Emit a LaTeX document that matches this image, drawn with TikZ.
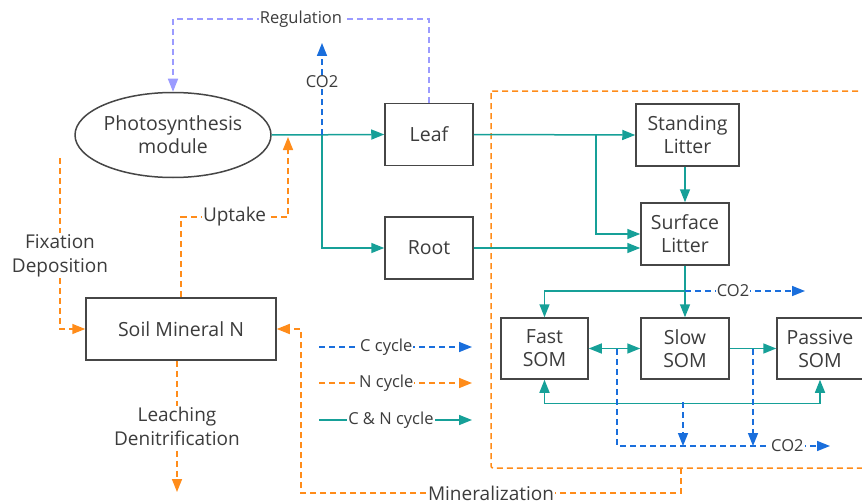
\documentclass[tikz,border=0pt]{standalone}
\usepackage{fontspec}
\setmainfont{Open Sans}
\usetikzlibrary{arrows.meta,shapes.geometric}
\definecolor{tealc}{RGB}{22,160,152}
\definecolor{orangec}{RGB}{255,140,26}
\definecolor{bluec}{RGB}{25,110,220}
\definecolor{purplec}{RGB}{155,155,255}
\definecolor{txt}{RGB}{60,60,60}
\definecolor{boxc}{RGB}{70,70,70}
\tikzset{
  tri/.tip={Triangle[length=13pt,width=10pt]},
  tip/.style={-tri},
  dtip/.style={tri-tri},
  box/.style={draw=boxc, line width=1.5pt, minimum width=#1, minimum height=62pt, inner sep=0pt, align=center, text=txt, font=\fontsize{19.5}{23}\selectfont},
  cn/.style={draw=tealc, line width=1.5pt},
  cdash/.style={draw=bluec, line width=1.5pt, dash pattern=on 6pt off 4pt},
  ndash/.style={draw=orangec, line width=1.5pt, dash pattern=on 6pt off 4pt},
  rdash/.style={draw=purplec, line width=1.5pt, dash pattern=on 6pt off 4pt},
  lab/.style={fill=white, inner sep=1pt, text=txt, align=center, font=\fontsize{19}{24}\selectfont},
  slab/.style={fill=white, inner sep=1pt, text=txt, font=\fontsize{16.5}{20}\selectfont},
}
\begin{document}
\begin{tikzpicture}[x=1pt,y=-1pt]
\useasboundingbox (0,0) rectangle (862,503);
\fill[white] (0,0) rectangle (862,503);
% big dashed region
\draw[ndash, rounded corners=2pt] (491,91) rectangle (885,468);
% nodes
\node[ellipse, draw=boxc, line width=1.5pt, minimum width=172pt, minimum height=85pt, inner sep=0pt, align=center, text=txt, font=\fontsize{19.5}{23}\selectfont] (ps) at (173,135) {Photosynthesis\\module};
\node[box=88pt] (leaf) at (429,134.5) {Leaf};
\node[box=88pt] (root) at (429,248) {Root};
\node[box=190pt] (soil) at (181,329) {Soil Mineral N};
\node[box=103pt] (stand) at (687.5,135) {Standing\\Litter};
\node[box=88pt] (surf) at (685,234) {Surface\\Litter};
\node[box=87pt, minimum height=61pt] (fast) at (544.5,348.5) {Fast\\SOM};
\node[box=88pt, minimum height=61pt] (slow) at (685,348.5) {Slow\\SOM};
\node[box=86pt, minimum height=61pt] (pass) at (820,348.5) {Passive\\SOM};
% coordinates
\coordinate (j1) at (322,135);
\coordinate (co2top) at (322,43);
\coordinate (upt) at (288,137);
\coordinate (j2) at (596,135);
\coordinate (j3) at (685,291);
\coordinate (co2a) at (805,291);
\coordinate (j4) at (617,349);
\coordinate (j5) at (753,349);
\coordinate (j6) at (683,402);
\coordinate (co2b) at (830,446);
\coordinate (fixtop) at (60,158);
\coordinate (leachend) at (177,492);
\coordinate (minst) at (681,468);
% teal flows
\draw[cn,tip] (ps.east) -- (leaf.west);
\draw[cn,tip] (j1) |- (root.west);
\draw[cn,tip] (leaf.east) -- (stand.west);
\draw[cn,tip] (j2) |- (surf.west);
\draw[cn,tip] (root.east) -- (root.east -| surf.west);
\draw[cn,tip] (surf.north |- stand.south) -- (surf.north);
\draw[cn,tip] (surf.south) -- (slow.north);
\draw[cn,tip] (j3) -| (fast.north);
\draw[cn,dtip] (fast.east) -- (slow.west);
\draw[cn,tip] (slow.east) -- (pass.west);
\draw[cn,dtip] (fast.south) -- ++(0,23.5) -| (pass.south);
% blue CO2
\draw[cdash,tip] (j1) -- node[slab, pos=0.58]{CO2} (co2top);
\draw[cdash,tip] (j3) -- node[slab, pos=0.4]{CO2} (co2a);
\draw[cdash,tip] (j4) |- node[slab, pos=0.9]{CO2} (co2b);
\draw[cdash,tip] (j6) -- (j6 |- co2b);
\draw[cdash,tip] (j5) -- (j5 |- co2b);
% regulation
\draw[rdash,tip] (leaf.north) -- (429,19) -- node[slab]{Regulation} (173,19) -- (ps.north);
% N flows
\draw[ndash,tip] (soil.north) -- (181,217) -- node[lab]{Uptake} (288,217) -- (upt);
\draw[ndash,tip] (fixtop) -- node[lab, pos=0.57]{Fixation\\Deposition} (60,329) -- (soil.west);
\draw[ndash,tip] ([xshift=-4pt]soil.south) -- node[lab, pos=0.5]{Leaching\\Denitrification} (leachend);
\draw[ndash,tip] (minst) -- (681,493) -- node[lab, pos=0.5]{Mineralization} (301,493) -- (301,329) -- (soil.east);
% legend
\coordinate (l1a) at (319,347); \coordinate (l1b) at (472,347);
\coordinate (l2a) at (319,383); \coordinate (l2b) at (472,383);
\coordinate (l3a) at (319,420); \coordinate (l3b) at (472,420);
\draw[cdash,tip] (l1a) -- node[slab, pos=0.44]{C cycle} (l1b);
\draw[ndash,tip] (l2a) -- node[slab, pos=0.44]{N cycle} (l2b);
\draw[cn,tip] (l3a) -- node[slab, pos=0.47]{C \& N cycle} (l3b);
\end{tikzpicture}
\end{document}
